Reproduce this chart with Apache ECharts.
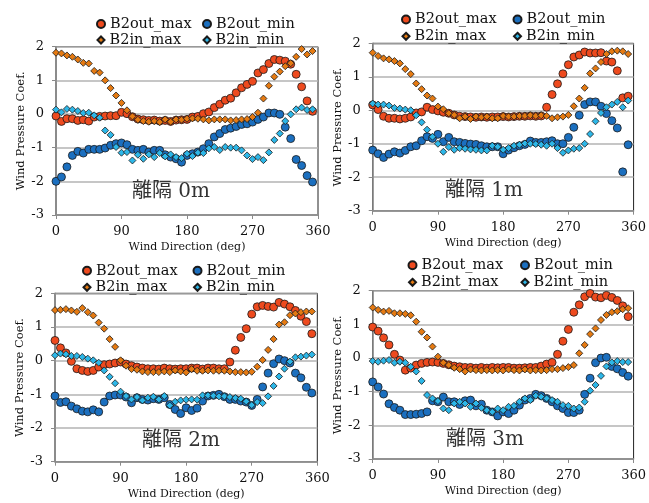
<!DOCTYPE html>
<html>
<head>
<meta charset="utf-8">
<title>Wind Pressure Coef.</title>
<script src="https://cdn.jsdelivr.net/npm/echarts@6.0.0/dist/echarts.min.js"></script>
<style>
html, body { margin: 0; padding: 0; background: #fff; }
#box { width: 649px; height: 503px; }
</style>
</head>
<body>
<div id="box"></div>
<script>
// wind direction (deg), one point every 7.5 deg
const dirs = [0, 7.5, 15, 22.5, 30, 37.5, 45, 52.5, 60, 67.5, 75, 82.5, 90, 97.5, 105, 112.5,
  120, 127.5, 135, 142.5, 150, 157.5, 165, 172.5, 180, 187.5, 195, 202.5, 210, 217.5, 225, 232.5,
  240, 247.5, 255, 262.5, 270, 277.5, 285, 292.5, 300, 307.5, 315, 322.5, 330, 337.5, 345, 352.5];
const xTicks = [0, 90, 180, 270, 360];
const yTicks = [-3, -2, -1, 0, 1, 2];

// 離隔 0m
const outMax0 = [-0.06,-0.22,-0.14,-0.14,-0.19,-0.17,-0.21,-0.09,-0.07,-0.06,-0.05,-0.05,0.05,0.01,-0.08,-0.15,-0.17,-0.19,-0.18,-0.21,-0.19,-0.22,-0.18,-0.17,-0.16,-0.09,-0.07,0.01,0.06,0.19,0.29,0.41,0.47,0.63,0.78,0.88,0.97,1.22,1.32,1.5,1.62,1.6,1.57,1.48,1.18,0.81,0.39,0.08];
const outMin0 = [-2.0,-1.87,-1.57,-1.23,-1.11,-1.16,-1.05,-1.05,-1.05,-1.01,-0.93,-0.88,-0.86,-0.91,-1.05,-1.08,-1.05,-1.13,-1.08,-1.08,-1.21,-1.28,-1.33,-1.43,-1.23,-1.18,-1.13,-1.03,-0.88,-0.68,-0.58,-0.46,-0.42,-0.37,-0.31,-0.29,-0.24,-0.16,-0.09,0.03,0.03,-0.01,-0.39,-0.73,-1.35,-1.53,-1.83,-2.02];
const inMax0 = [1.82,1.8,1.74,1.7,1.62,1.52,1.5,1.28,1.23,1.0,0.77,0.55,0.33,0.11,-0.07,-0.17,-0.21,-0.23,-0.21,-0.24,-0.16,-0.23,-0.16,-0.17,-0.14,-0.13,-0.14,-0.16,-0.19,-0.16,-0.16,-0.16,-0.19,-0.18,-0.16,-0.15,-0.09,0.04,0.46,0.84,1.11,1.26,1.42,1.51,1.7,1.93,1.77,1.87];
const inMin0 = [0.13,0.05,0.15,0.13,0.09,0.03,0.04,-0.04,-0.11,-0.49,-0.62,-0.98,-1.15,-1.13,-1.38,-1.21,-1.33,-1.2,-1.28,-1.16,-1.26,-1.2,-1.28,-1.31,-1.18,-1.25,-1.15,-1.16,-1.02,-0.98,-1.07,-0.98,-1.0,-1.0,-1.08,-1.23,-1.34,-1.28,-1.37,-1.14,-0.77,-0.58,-0.21,-0.01,0.14,0.19,0.12,0.14];

// 離隔 1m
const outMax1 = [0.16,0.02,-0.18,-0.24,-0.24,-0.26,-0.24,-0.2,-0.08,-0.05,0.09,0.02,-0.02,-0.06,-0.09,-0.14,-0.18,-0.19,-0.2,-0.21,-0.2,-0.21,-0.2,-0.2,-0.19,-0.2,-0.19,-0.18,-0.18,-0.17,-0.18,-0.17,0.09,0.47,0.79,1.09,1.36,1.59,1.65,1.74,1.71,1.71,1.72,1.47,1.44,1.18,0.37,0.42];
const outMin1 = [-1.19,-1.3,-1.41,-1.31,-1.24,-1.28,-1.2,-1.09,-1.06,-0.91,-0.79,-0.84,-0.72,-0.94,-0.81,-0.94,-0.96,-0.99,-1.01,-1.02,-1.06,-1.09,-1.09,-1.09,-1.3,-1.19,-1.12,-1.06,-1.02,-0.92,-0.96,-0.96,-0.94,-0.91,-1.0,-1.0,-0.81,-0.51,-0.15,0.17,0.25,0.25,0.12,-0.1,-0.31,-0.53,-1.84,-1.03];
const inMax1 = [1.72,1.62,1.55,1.52,1.47,1.4,1.23,1.08,0.8,0.63,0.44,0.35,0.11,0.03,-0.09,-0.14,-0.24,-0.19,-0.26,-0.19,-0.21,-0.19,-0.24,-0.24,-0.17,-0.19,-0.19,-0.17,-0.17,-0.15,-0.17,-0.15,-0.17,-0.24,-0.21,-0.19,-0.14,0.12,0.35,0.67,1.1,1.25,1.44,1.68,1.76,1.78,1.76,1.68];
const inMin1 = [0.2,0.17,0.17,0.14,0.07,0.05,0.02,0.0,-0.15,-0.36,-0.58,-0.79,-1.0,-1.24,-1.1,-1.18,-1.13,-1.15,-1.17,-1.18,-1.2,-1.2,-1.06,-1.09,-1.18,-1.13,-1.06,-1.03,-0.99,-1.0,-1.01,-1.03,-1.06,-1.0,-1.13,-1.27,-1.2,-1.15,-1.13,-1.0,-0.71,-0.33,-0.08,0.09,0.17,0.25,0.09,0.29];

// 離隔 2m
const outMax2 = [0.6,0.38,0.23,-0.02,-0.24,-0.29,-0.32,-0.29,-0.19,-0.12,-0.1,-0.07,-0.04,-0.1,-0.15,-0.19,-0.22,-0.24,-0.24,-0.25,-0.22,-0.24,-0.25,-0.24,-0.24,-0.22,-0.22,-0.25,-0.22,-0.22,-0.24,-0.24,-0.04,0.31,0.69,0.95,1.38,1.6,1.64,1.61,1.59,1.73,1.68,1.6,1.49,1.32,1.16,0.8];
const outMin2 = [-1.05,-1.24,-1.22,-1.35,-1.43,-1.5,-1.52,-1.46,-1.52,-1.23,-1.05,-1.02,-1.02,-1.08,-1.25,-1.1,-1.15,-1.17,-1.13,-1.15,-1.1,-1.3,-1.45,-1.57,-1.4,-1.48,-1.41,-1.2,-1.05,-1.03,-1.0,-1.07,-1.15,-1.15,-1.2,-1.23,-1.33,-1.15,-0.78,-0.37,-0.09,0.05,0.0,-0.07,-0.37,-0.51,-0.79,-0.96];
const inMax2 = [1.5,1.51,1.53,1.49,1.45,1.56,1.44,1.34,1.13,0.95,0.64,0.41,0.01,-0.15,-0.25,-0.27,-0.32,-0.34,-0.34,-0.34,-0.32,-0.34,-0.29,-0.32,-0.35,-0.25,-0.3,-0.3,-0.29,-0.3,-0.3,-0.3,-0.32,-0.34,-0.34,-0.35,-0.33,-0.18,0.02,0.32,0.64,1.07,1.14,1.35,1.4,1.44,1.46,1.46];
const inMin2 = [0.16,0.21,0.19,0.14,0.14,0.11,0.06,0.01,-0.06,-0.29,-0.48,-0.67,-0.92,-1.05,-1.15,-1.08,-1.18,-1.1,-1.07,-1.15,-1.05,-1.33,-1.22,-1.18,-1.16,-1.15,-1.16,-1.03,-1.03,-1.04,-1.06,-1.06,-1.08,-1.11,-1.13,-1.21,-1.32,-1.23,-1.26,-1.06,-0.75,-0.47,-0.24,-0.03,0.1,0.12,0.15,0.18];

// 離隔 3m
const outMax3 = [0.92,0.8,0.6,0.39,0.11,-0.06,-0.36,-0.3,-0.21,-0.16,-0.13,-0.12,-0.13,-0.16,-0.2,-0.24,-0.26,-0.28,-0.28,-0.3,-0.28,-0.3,-0.28,-0.29,-0.28,-0.28,-0.3,-0.3,-0.29,-0.28,-0.28,-0.24,-0.18,-0.13,0.11,0.5,0.85,1.36,1.58,1.82,1.92,1.81,1.79,1.86,1.8,1.71,1.55,1.23];
const outMin3 = [-0.71,-0.86,-1.07,-1.36,-1.47,-1.55,-1.68,-1.68,-1.67,-1.65,-1.6,-1.27,-1.3,-1.16,-1.3,-1.3,-1.38,-1.27,-1.25,-1.42,-1.37,-1.55,-1.6,-1.72,-1.6,-1.65,-1.55,-1.4,-1.25,-1.2,-1.08,-1.12,-1.2,-1.3,-1.42,-1.5,-1.62,-1.62,-1.55,-1.08,-0.6,-0.14,0.0,0.02,-0.25,-0.32,-0.43,-0.54];
const inMax3 = [1.5,1.43,1.38,1.4,1.33,1.33,1.31,1.27,1.08,0.78,0.61,0.34,0.04,-0.14,-0.21,-0.29,-0.33,-0.4,-0.34,-0.36,-0.37,-0.36,-0.37,-0.36,-0.37,-0.34,-0.36,-0.37,-0.34,-0.37,-0.36,-0.37,-0.36,-0.33,-0.33,-0.3,-0.27,-0.21,0.14,0.39,0.71,0.88,1.13,1.28,1.36,1.39,1.45,1.48];
const inMin3 = [-0.09,-0.11,-0.08,-0.06,-0.14,-0.11,-0.14,-0.26,-0.4,-0.68,-1.1,-1.2,-1.28,-1.5,-1.55,-1.35,-1.3,-1.35,-1.45,-1.35,-1.48,-1.55,-1.6,-1.5,-1.55,-1.45,-1.42,-1.3,-1.2,-1.25,-1.12,-1.15,-1.2,-1.25,-1.3,-1.4,-1.42,-1.5,-1.47,-1.3,-0.97,-0.8,-0.53,-0.25,-0.13,-0.09,-0.12,-0.12];

const titles = ["離隔 0m", "離隔 1m", "離隔 2m", "離隔 3m"];
const seriesNames = [
  ["B2out_max", "B2out_min", "B2in_max", "B2in_min"],
  ["B2out_max", "B2out_min", "B2in_max", "B2in_min"],
  ["B2out_max", "B2out_min", "B2in_max", "B2in_min"],
  ["B2out_max", "B2out_min", "B2int_max", "B2int_min"],
];
const panelData = [
  [outMax0, outMin0, inMax0, inMin0],
  [outMax1, outMin1, inMax1, inMin1],
  [outMax2, outMin2, inMax2, inMin2],
  [outMax3, outMin3, inMax3, inMin3],
];

// layout of each panel (plot box, legend columns/rows, label position)
const layout = [
  { grid: [56, 46.7, 262, 168.3], lx: [100, 206], ly: [20.5, 36], title: [132, 182] },
  { grid: [372.7, 43.3, 262.3, 167.4], lx: [405, 516.5], ly: [16, 32.3], title: [445, 181] },
  { grid: [55, 293.3, 262.3, 168.4], lx: [86, 196.5], ly: [267.3, 283.3], title: [142, 431] },
  { grid: [372.7, 290.7, 263.3, 168.3], lx: [411.5, 524], ly: [261.7, 278.3], title: [446, 430] },
];

const font = "'DejaVu Serif', serif";
const styles = [
  { symbol: "circle", size: 8, color: "#EE4A1E" },
  { symbol: "circle", size: 8, color: "#1B6FBF" },
  { symbol: "diamond", size: 7, color: "#E57A12" },
  { symbol: "diamond", size: 7, color: "#2DB7E8" },
];

let grids = [], xAxes = [], yAxes = [], series = [], legends = [], titleList = [];

layout.forEach((p, i) => {
  grids.push({
    left: p.grid[0], top: p.grid[1], width: p.grid[2], height: p.grid[3],
    show: true, borderColor: "#222", borderWidth: 1,
  });
  xAxes.push({
    gridIndex: i, type: "value",
    min: xTicks[0], max: xTicks[xTicks.length - 1], interval: 90,
    name: "Wind Direction (deg)", nameLocation: "middle", nameGap: 27,
    nameTextStyle: { fontFamily: font, fontSize: 11, color: "#111" },
    axisLine: { show: true, onZero: false, lineStyle: { color: "#8a8a8a", width: 1.5 } },
    axisTick: { show: true, length: 4, lineStyle: { color: "#8a8a8a" } },
    axisLabel: { fontFamily: font, fontSize: 13, color: "#111", margin: 10 },
    splitLine: { show: false },
  });
  yAxes.push({
    gridIndex: i, type: "value",
    min: yTicks[0], max: yTicks[yTicks.length - 1], interval: 1,
    name: "Wind Pressure Coef.", nameLocation: "middle", nameGap: 29, nameRotate: 90,
    nameTextStyle: { fontFamily: font, fontSize: 11.5, color: "#111" },
    axisLine: { show: true, onZero: false, lineStyle: { color: "#8a8a8a", width: 1.5 } },
    axisTick: { show: true, length: 4, lineStyle: { color: "#8a8a8a" } },
    axisLabel: { fontFamily: font, fontSize: 13, color: "#111", margin: 12 },
    splitLine: { show: true, lineStyle: { color: "#b3b3b3", width: 1.5 } },
  });

  seriesNames[i].forEach((name, k) => {
    const st = styles[k];
    series.push({
      name: name, type: "scatter",
      xAxisIndex: i, yAxisIndex: i,
      symbol: st.symbol, symbolSize: st.size,
      itemStyle: { color: st.color, borderColor: "#1a1a1a", borderWidth: 0.8, opacity: 1 },
      data: dirs.map((d, j) => [d, panelData[i][k][j]]),
    });
    // one legend per item so the 2x2 layout lines up
    const col = k % 2, row = Math.floor(k / 2);
    legends.push({
      data: [name], selectedMode: false, padding: 0,
      left: p.lx[col] - st.size / 2, top: p.ly[row] - st.size / 2,
      icon: st.symbol, itemWidth: st.size, itemHeight: st.size,
      textStyle: { fontFamily: font, fontSize: 14.5, color: "#111" },
    });
  });

  titleList.push({
    text: titles[i], left: p.title[0], top: p.title[1], padding: 0,
    textStyle: { fontFamily: "'DejaVu Serif', 'Noto Sans CJK JP'", fontSize: 20, fontWeight: "normal", color: "#333" },
  });
});

let myChart = echarts.init(document.getElementById("box"));
myChart.setOption({
  backgroundColor: "#fff",
  animation: false,
  title: titleList,
  legend: legends,
  grid: grids,
  xAxis: xAxes,
  yAxis: yAxes,
  series: series,
});
</script>
</body>
</html>
